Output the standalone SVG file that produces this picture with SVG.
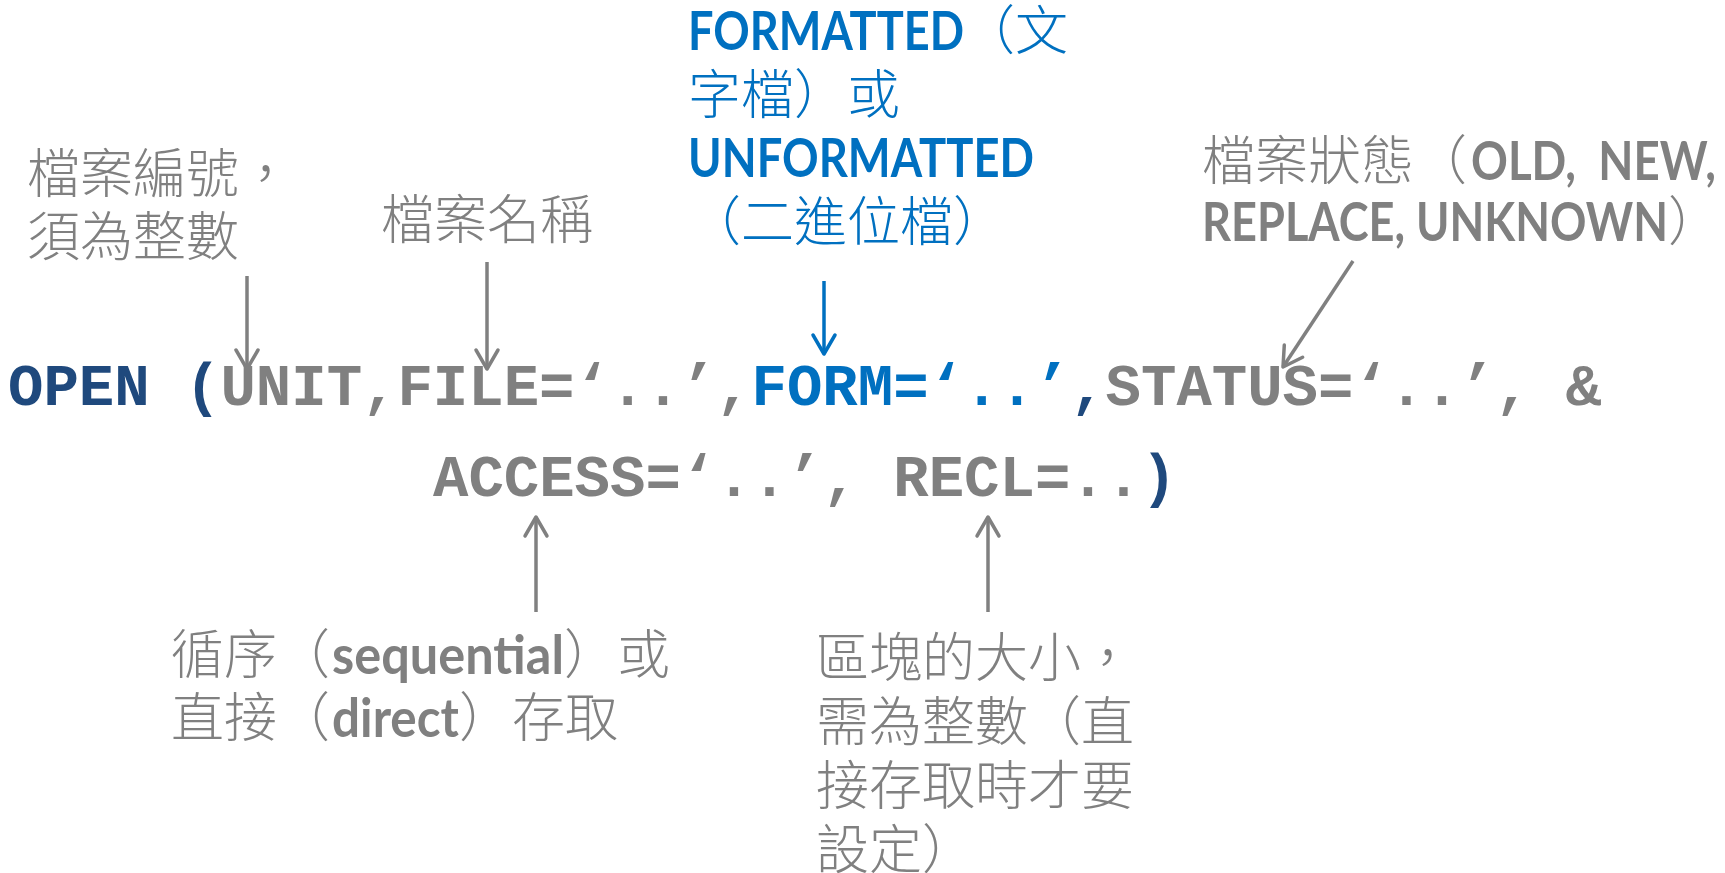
<svg xmlns="http://www.w3.org/2000/svg" width="1725" height="873" viewBox="0 0 1725 873">
<style>
.lbl{font-family:"Noto Sans CJK TC","Noto Sans CJK SC",sans-serif;font-size:53px;fill:#808080;font-weight:300}
.lat{font-family:Lato,"Open Sans",sans-serif;font-weight:bold;font-size:53px;fill:#808080}
.blue{fill:#0070C0}
.code{font-family:"Liberation Mono","Courier New",monospace;font-weight:bold;font-size:59px;white-space:pre}
.g{fill:#808080}
.b{fill:#0070C0}
.d{fill:#1F497D}
.cn{stroke:#808080;stroke-width:3.5;fill:none}
.cnb{stroke:#0070C0;stroke-width:3.5;fill:none}
</style>
<defs>
<marker id="ah" markerUnits="userSpaceOnUse" markerWidth="30" markerHeight="30" viewBox="-22 -15 26 30" refX="0" refY="0" orient="auto">
<path d="M-19,-11 L0,0 L-19,11" fill="none" stroke="#808080" stroke-width="3.5" stroke-linecap="round" stroke-linejoin="round"/>
</marker>
<marker id="ahb" markerUnits="userSpaceOnUse" markerWidth="30" markerHeight="30" viewBox="-22 -15 26 30" refX="0" refY="0" orient="auto">
<path d="M-19,-11 L0,0 L-19,11" fill="none" stroke="#0070C0" stroke-width="3.5" stroke-linecap="round" stroke-linejoin="round"/>
</marker>
</defs>
<rect width="1725" height="873" fill="#ffffff"/>
<g id="code">
<text class="code" xml:space="preserve" x="8" y="405"><tspan class="d">OPEN (</tspan><tspan class="g">UNIT,FILE=‘..’,</tspan><tspan class="b">FORM=‘..’</tspan><tspan class="d">,</tspan><tspan class="g">STATUS=‘..’, &amp;</tspan></text>
<text class="code" xml:space="preserve" x="433" y="496"><tspan class="g">ACCESS=‘..’, RECL=..</tspan><tspan class="d">)</tspan></text>
</g>
<g id="label-unit">
<text class="lbl" x="27" y="193">檔案編號，</text>
<text class="lbl" x="27" y="256">須為整數</text>
</g>
<g id="label-file">
<text class="lbl" x="381" y="239">檔案名稱</text>
</g>
<g id="label-form">
<text class="lat blue" x="688" y="50" textLength="276" lengthAdjust="spacingAndGlyphs">FORMATTED</text>
<text class="lbl blue" x="962" y="50">（文</text>
<text class="lbl blue" x="688" y="114">字檔）或</text>
<text class="lat blue" x="688" y="177" textLength="346" lengthAdjust="spacingAndGlyphs">UNFORMATTED</text>
<text class="lbl blue" x="688" y="241">（二進位檔）</text>
</g>
<g id="label-status">
<text class="lbl" x="1202" y="180">檔案狀態（</text>
<text class="lat" x="1471" y="180" textLength="245" lengthAdjust="spacingAndGlyphs" xml:space="preserve">OLD,  NEW,</text>
<text class="lat" x="1202" y="241" textLength="466" lengthAdjust="spacingAndGlyphs">REPLACE, UNKNOWN</text>
<text class="lbl" x="1668" y="241">）</text>
</g>
<g id="label-access">
<text class="lbl" x="171" y="674">循序（</text>
<text class="lat" x="332" y="674" textLength="232" lengthAdjust="spacingAndGlyphs">sequential</text>
<text class="lbl" x="564" y="674">）或</text>
<text class="lbl" x="171" y="737">直接（</text>
<text class="lat" x="332" y="737" textLength="127" lengthAdjust="spacingAndGlyphs">direct</text>
<text class="lbl" x="459" y="737">）存取</text>
</g>
<g id="label-recl">
<text class="lbl" x="816" y="677">區塊的大小，</text>
<text class="lbl" x="816" y="741">需為整數（直</text>
<text class="lbl" x="816" y="805">接存取時才要</text>
<text class="lbl" x="816" y="869">設定）</text>
</g>
<g id="connectors">
<line class="cn" x1="247" y1="276" x2="247" y2="369" marker-end="url(#ah)"/>
<line class="cn" x1="487" y1="262" x2="487" y2="369" marker-end="url(#ah)"/>
<line class="cnb" x1="824" y1="281" x2="824" y2="354" marker-end="url(#ahb)"/>
<line class="cn" x1="1353" y1="261" x2="1283" y2="367" marker-end="url(#ah)"/>
<line class="cn" x1="536" y1="612" x2="536" y2="517" marker-end="url(#ah)"/>
<line class="cn" x1="988" y1="612" x2="988" y2="517" marker-end="url(#ah)"/>
</g>
</svg>
